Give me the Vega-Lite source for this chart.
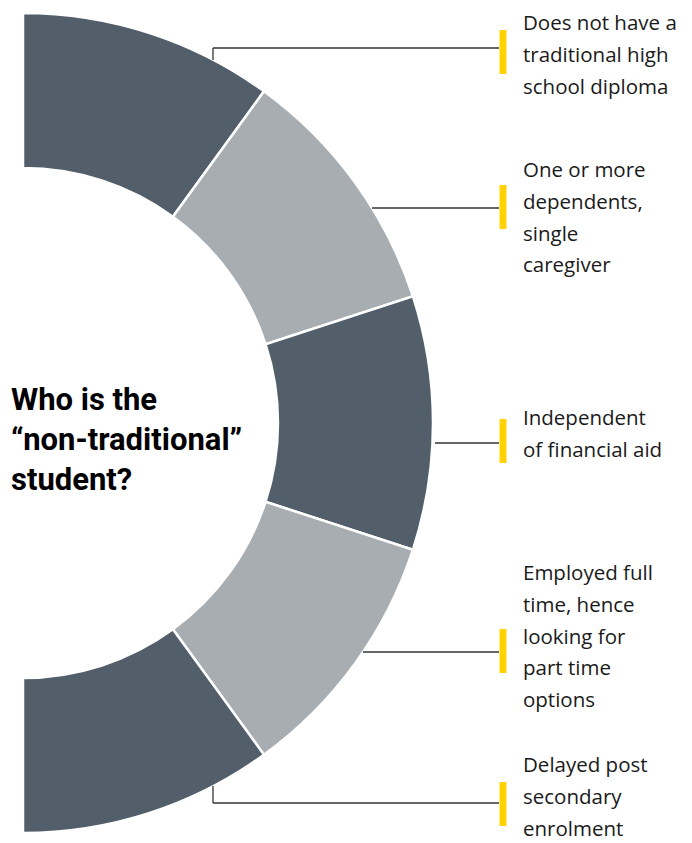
{
  "$schema": "https://vega.github.io/schema/vega-lite/v6.json",
  "width": 692,
  "height": 843,
  "autosize": {"type": "none"},
  "padding": 0,
  "background": "white",
  "config": {"view": {"stroke": null}},
  "datasets": {
    "segments": [
      {"order": 1, "label": "Does not have a traditional high school diploma", "value": 1},
      {"order": 2, "label": "One or more dependents, single caregiver", "value": 1},
      {"order": 3, "label": "Independent of financial aid", "value": 1},
      {"order": 4, "label": "Employed full time, hence looking for part time options", "value": 1},
      {"order": 5, "label": "Delayed post secondary enrolment", "value": 1}
    ],
    "leaders": [
      {"x": 190, "x2": 190, "y": 363, "y2": 375},
      {"x": 190, "x2": 476, "y": 375, "y2": 375},
      {"x": 349, "x2": 476, "y": 215, "y2": 215},
      {"x": 412, "x2": 476, "y": -20, "y2": -20},
      {"x": 340, "x2": 476, "y": -229, "y2": -229},
      {"x": 190, "x2": 190, "y": -363, "y2": -380},
      {"x": 190, "x2": 476, "y": -380, "y2": -380}
    ],
    "bars": [
      {"y": 393, "y2": 349},
      {"y": 238, "y2": 194},
      {"y": 4, "y2": -40},
      {"y": -206, "y2": -250},
      {"y": -359, "y2": -403}
    ],
    "labels": [
      {"text": "Does not have a\ntraditional high\nschool diploma", "y": 393},
      {"text": "One or more\ndependents,\nsingle\ncaregiver", "y": 246},
      {"text": "Independent\nof financial aid", "y": -2},
      {"text": "Employed full\ntime, hence\nlooking for\npart time\noptions", "y": -157},
      {"text": "Delayed post\nsecondary\nenrolment", "y": -349}
    ],
    "title": [
      {"text": "Who is the\n“non-traditional”\nstudent?", "x": -12, "y": 13}
    ]
  },
  "layer": [
    {
      "data": {"name": "segments"},
      "mark": {"type": "arc", "radius": 410, "radius2": 255, "stroke": "white", "strokeWidth": 2.5},
      "encoding": {
        "x": {"datum": 0, "type": "quantitative", "scale": {"domain": [-23, 669], "nice": false, "zero": false}, "axis": null},
        "y": {"datum": 0, "type": "quantitative", "scale": {"domain": [-420, 423], "nice": false, "zero": false}, "axis": null},
        "theta": {"field": "value", "type": "quantitative", "stack": true, "scale": {"range": [0, 3.14159265]}},
        "order": {"field": "order", "type": "quantitative"},
        "color": {
          "field": "label", "type": "nominal", "legend": null,
          "scale": {
            "domain": ["Does not have a traditional high school diploma", "One or more dependents, single caregiver", "Independent of financial aid", "Employed full time, hence looking for part time options", "Delayed post secondary enrolment"],
            "range": ["#525E6A", "#A8ADB2", "#525E6A", "#A8ADB2", "#525E6A"]
          }
        }
      }
    },
    {
      "data": {"name": "leaders"},
      "mark": {"type": "rule", "color": "#333333", "strokeWidth": 1.3},
      "encoding": {
        "x": {"field": "x", "type": "quantitative", "scale": {"domain": [-23, 669], "nice": false, "zero": false}, "axis": null},
        "x2": {"field": "x2"},
        "y": {"field": "y", "type": "quantitative", "scale": {"domain": [-420, 423], "nice": false, "zero": false}, "axis": null},
        "y2": {"field": "y2"}
      }
    },
    {
      "data": {"name": "bars"},
      "mark": {"type": "rule", "color": "#FFD200", "strokeWidth": 7, "strokeCap": "butt"},
      "encoding": {
        "x": {"datum": 480, "type": "quantitative", "scale": {"domain": [-23, 669], "nice": false, "zero": false}, "axis": null},
        "y": {"field": "y", "type": "quantitative", "scale": {"domain": [-420, 423], "nice": false, "zero": false}, "axis": null},
        "y2": {"field": "y2"}
      }
    },
    {
      "data": {"name": "labels"},
      "mark": {"type": "text", "align": "left", "baseline": "alphabetic", "lineBreak": "\n", "lineHeight": 31.8, "font": "Open Sans", "fontSize": 20.5, "color": "#1a1a1a"},
      "encoding": {
        "x": {"datum": 500, "type": "quantitative", "scale": {"domain": [-23, 669], "nice": false, "zero": false}, "axis": null},
        "y": {"field": "y", "type": "quantitative", "scale": {"domain": [-420, 423], "nice": false, "zero": false}, "axis": null},
        "text": {"field": "text"}
      }
    },
    {
      "data": {"name": "title"},
      "mark": {"type": "text", "align": "left", "baseline": "alphabetic", "lineBreak": "\n", "lineHeight": 40, "font": "Roboto", "fontSize": 31, "fontWeight": "bold", "color": "#000000"},
      "encoding": {
        "x": {"field": "x", "type": "quantitative", "scale": {"domain": [-23, 669], "nice": false, "zero": false}, "axis": null},
        "y": {"field": "y", "type": "quantitative", "scale": {"domain": [-420, 423], "nice": false, "zero": false}, "axis": null},
        "text": {"field": "text"}
      }
    }
  ]
}
